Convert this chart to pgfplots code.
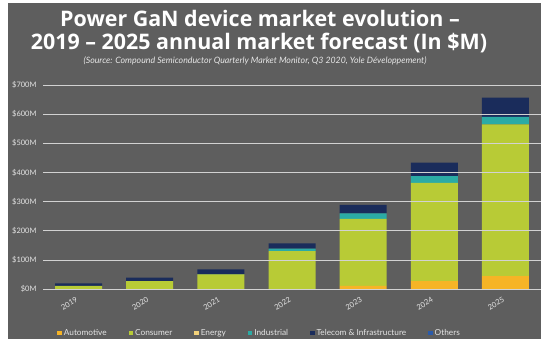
\documentclass[border=0pt]{standalone}
\usepackage{fontspec}
\setmainfont{Lato}
\newfontfamily\titlefont{Open Sans}
\usepackage{graphicx}
\usepackage{pgfplots}
\pgfplotsset{compat=1.18}
\definecolor{bg}{HTML}{5E5E5E}
\definecolor{cauto}{HTML}{F6B426}
\definecolor{ccons}{HTML}{B8CB36}
\definecolor{cener}{HTML}{F3D27A}
\definecolor{cindu}{HTML}{2BABA5}
\definecolor{ctele}{HTML}{1A2C5B}
\definecolor{cothe}{HTML}{2B5BAA}
\definecolor{gridc}{HTML}{D2D2D2}
\definecolor{lbl}{HTML}{E6E6E6}
\begin{document}
\begin{tikzpicture}
\fill[white] (0bp,0bp) rectangle (550bp,347bp);
\fill[bg] (8bp,8bp) rectangle (541bp,344bp);
\node[white, font=\titlefont\bfseries\fontsize{21.5}{22}\selectfont] at (260bp,329bp) {Power GaN device market evolution \textendash};
\node[white, font=\titlefont\bfseries\fontsize{21.5}{22}\selectfont] at (259bp,304bp) {2019 \textendash{} 2025 annual market forecast (In \$M)};
\node[lbl, font=\itshape\fontsize{8.8}{10}\selectfont] at (255bp,286bp) {(Source: Compound Semiconductor Quarterly Market Monitor, Q3 2020, Yole Développement)};
\begin{axis}[
  at={(43bp,57.7bp)}, anchor=south west,
  width=498bp, height=204.3bp, scale only axis,
  ybar stacked, bar width=47bp,
  xmin=-0.5, xmax=6.5, ymin=0, ymax=700,
  axis x line=bottom, axis y line=left,
  axis line style={draw=none, -},
  grid=none, xmajorgrids=false, ymajorgrids=false, xminorgrids=false, yminorgrids=false,
  minor x tick num=0, minor y tick num=0,
  ytick={0,100,...,700},
  yticklabels={\$0M,\$100M,\$200M,\$300M,\$400M,\$500M,\$600M,\$700M},
  xtick={0,...,6},
  xticklabels={\rotatebox{30}{2019},\rotatebox{30}{2020},\rotatebox{30}{2021},\rotatebox{30}{2022},\rotatebox{30}{2023},\rotatebox{30}{2024},\rotatebox{30}{2025}},
  xticklabel style={anchor=north east, yshift=-4bp, xshift=3bp},
  tick label style={text=lbl, font=\fontsize{7.5}{8}\selectfont},
  yticklabel style={xshift=-3bp},
  /pgf/number format/assume math mode=true,
  major tick length=0pt, minor tick length=0pt,
  tick style={draw=none},
  legend style={at={(0.435,-0.215)}, anchor=center, draw=none, fill=none,
    text=lbl, font=\fontsize{8.3}{9}\selectfont, legend columns=6,
    /tikz/every even column/.append style={column sep=20bp}},
  legend image code/.code={\fill[#1] (0bp,-2bp) rectangle (4.5bp,2.5bp);},
]
\pgfplotsinvokeforeach{0,100,200,300,400,500,600,700}{
  \draw[gridc, line width=1bp] (axis cs:-0.5,#1) -- (axis cs:6.5,#1);
}
\addplot[fill=cauto, draw=none] coordinates {(0,0) (1,0) (2,0) (3,1) (4,12) (5,28) (6,45)};
\addplot[fill=ccons, draw=none] coordinates {(0,12) (1,28) (2,51) (3,130) (4,229) (5,337) (6,520)};
\addplot[fill=cener, draw=none] coordinates {(0,0) (1,0) (2,0) (3,0) (4,0) (5,0) (6,0)};
\addplot[fill=cindu, draw=none] coordinates {(0,0) (1,0) (2,1) (3,8) (4,19) (5,23) (6,26)};
\addplot[fill=ctele, draw=none] coordinates {(0,8) (1,12) (2,16) (3,18) (4,29) (5,46) (6,66)};
\addplot[fill=cothe, draw=none] coordinates {(0,0) (1,0) (2,0) (3,0) (4,0) (5,0) (6,0)};
\legend{Automotive,Consumer,Energy,Industrial,Telecom \& Infrastructure,Others}
\end{axis}
\end{tikzpicture}
\end{document}
